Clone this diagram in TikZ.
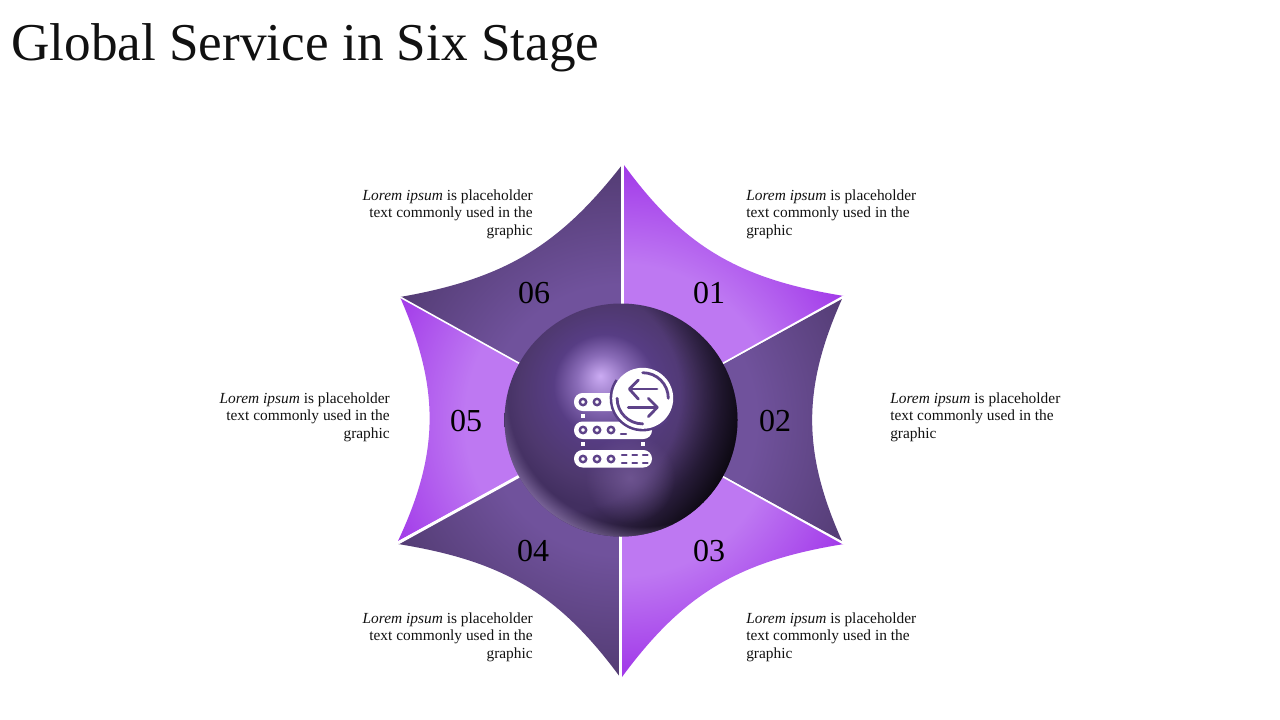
\documentclass[tikz,border=0pt]{standalone}
\usepackage{fontspec}
\setmainfont{Liberation Serif}
\usetikzlibrary{fadings}
\definecolor{petallight}{HTML}{BE78F2}
\definecolor{petaldeep}{HTML}{A036E8}
\definecolor{petalmid}{HTML}{70529C}
\definecolor{petaldark}{HTML}{523B72}
\definecolor{iconpurple}{HTML}{5E4389}
\definecolor{inktext}{HTML}{111111}
\definecolor{ballglow}{HTML}{CBABF3}
\definecolor{ballhalf}{HTML}{8A6CB8}
\definecolor{ballmid}{HTML}{573D84}
\definecolor{balltop}{HTML}{4E386E}
\definecolor{ballrim}{HTML}{422F60}
\definecolor{ballblack}{HTML}{0A070E}
\definecolor{ballbounce}{HTML}{917BB0}
\definecolor{ballpatch}{HTML}{7A5F9E}
\pgfdeclareradialshading{lightpetal}{\pgfpointorigin}{color(0bp)=(petallight); color(15bp)=(petallight); color(25bp)=(petaldeep); color(50bp)=(petaldeep)}
\pgfdeclareradialshading{darkpetal}{\pgfpointorigin}{color(0bp)=(petalmid); color(13bp)=(petalmid); color(25bp)=(petaldark); color(50bp)=(petaldark)}
\pgfdeclareradialshading{ballbase}{\pgfpoint{-4.5bp}{9.5bp}}{color(0bp)=(ballglow); color(5.5bp)=(ballhalf); color(11bp)=(ballmid); color(19bp)=(balltop); color(24bp)=(ballrim); color(50bp)=(ballrim)}
\pgfdeclareradialshading{darkmask}{\pgfpointorigin}{color(0bp)=(black); color(16bp)=(black); color(25bp)=(white); color(50bp)=(white)}
\pgfdeclareradialshading{glowmask}{\pgfpointorigin}{color(0bp)=(black); color(22bp)=(black); color(25bp)=(white); color(50bp)=(white)}
\pgfdeclareradialshading{patchmask}{\pgfpointorigin}{color(0bp)=(white); color(25bp)=(black); color(50bp)=(black)}
\pgfdeclarefading{darkfade}{\pgfuseshading{darkmask}}
\pgfdeclarefading{glowfade}{\pgfuseshading{glowmask}}
\pgfdeclarefading{patchfade}{\pgfuseshading{patchmask}}
\tikzset{
  blurb/.style={font=\fontsize{11.55pt}{13.1pt}\selectfont,text=inktext,inner sep=0pt},
  numeral/.style={font=\fontsize{24pt}{24pt}\selectfont,text=black,inner sep=0pt},
  holes/.style={draw=iconpurple,line width=1.8pt,fill=white},
  iconline/.style={draw=iconpurple,line width=2.1pt,line cap=round,line join=round}
}
\begin{document}
\begin{tikzpicture}[x=.75pt,y=-.75pt]
  \useasboundingbox (0,0) rectangle (1280,720);
  \node[anchor=base west,inner sep=0pt,font=\fontsize{39.9pt}{39.9pt}\selectfont,text=inktext] at (11,60.5) (title) {Global Service in Six Stage};
  % petals
  \foreach \a/\shd/\ax/\ay/\bx/\by in {-60/lightpetal/3/-255/223/-124,0/darkpetal/221/-121/221/121,60/lightpetal/223/124/1/257,120/darkpetal/-1/257/-223/124,180/lightpetal/-223/121/-221/-123,240/darkpetal/-221/-123/1/-255}{
    \begin{scope}[shift={(621,420)}]
      \clip (0,0) -- (\ax,\ay) .. controls (\a-10:184) and (\a+10:184) .. (\bx,\by) -- cycle;
      \shade[shading=\shd] (0,0) circle (260);
    \end{scope}
  }
  % gaps
  \draw[white,line width=1.6pt] (622.5,160)--(622.5,310);
  \draw[white,line width=1.6pt] (620.5,530)--(620.5,680);
  \draw[white,line width=1.2pt] (621,420)--(844,296);
  \draw[white,line width=1.2pt] (621,420)--(844,544);
  \draw[white,line width=1.2pt] (621,420)--(400,297);
  \draw[white,line width=2.2pt] (621,420)--(398,543);
  % ball
  \begin{scope}
    \clip (621,420) circle (116.5);
    \shade[shading=ballbase] (621,420) circle (116.5);
    \fill[ballblack,path fading=darkfade] (565,395) circle (180);
    \fill[ballpatch,path fading=patchfade,fill opacity=.7] (630,478) circle (45);
    \fill[ballbounce,path fading=glowfade,fill opacity=.75] (641,393) circle (151);
  \end{scope}
  % icon
  \fill[white,rounded corners=6.5pt] (574,393) rectangle (625,411);
  \fill[white,rounded corners=6.5pt] (574,421.5) rectangle (652,439);
  \fill[white,rounded corners=6.5pt] (574,450) rectangle (652,467.5);
  \foreach \x in {583,597}{\draw[holes] (\x,402) circle (3.2);}
  \foreach \x in {583,597,611}{
    \draw[holes] (\x,430) circle (3.2);
    \draw[holes] (\x,459) circle (3.2);
  }
  \draw[iconline,line width=1.8pt] (621,434)--(626,434);
  \foreach \x in {622,632.5,643}{
    \draw[iconline,line width=1.8pt] (\x,455)--(\x+4.5,455);
    \draw[iconline,line width=1.8pt] (\x,462.7)--(\x+4.5,462.7);
  }
  \foreach \x/\y in {583/416,583/444,643/444}{\fill[white] (\x-1.8,\y-1.8) rectangle (\x+1.8,\y+1.8);}
  \draw[ballmid,line width=2.4pt] (642.7,398.3) ++(40:31.5) arc[start angle=40,end angle=215,radius=31.5];
  \fill[white] (642.7,398.3) circle (30.5);
  \draw[iconline] (642.7,372.7) arc[start angle=-90,end angle=0,radius=25.6];
  \draw[iconline] (617.1,398.3) arc[start angle=180,end angle=90,radius=25.6];
  \draw[iconline] (657,389)--(630,389);
  \draw[iconline] (638.3,380)--(629.3,389)--(638.3,399);
  \draw[iconline] (628.3,407.3)--(657,407.3);
  \draw[iconline] (648.3,398.3)--(657.3,407.3)--(648.3,416.7);
  % numbers
  \node[numeral] at (709,293) (n01) {01};
  \node[numeral] at (775,421) (n02) {02};
  \node[numeral] at (709,551) (n03) {03};
  \node[numeral] at (533,551) (n04) {04};
  \node[numeral] at (466,421) (n05) {05};
  \node[numeral] at (534,293) (n06) {06};
  % texts
  \node[blurb,anchor=west,align=left] at (746,214) (t01) {\textit{Lorem ipsum} is placeholder\\text commonly used in the\\graphic};
  \node[blurb,anchor=west,align=left] at (890,417) (t02) {\textit{Lorem ipsum} is placeholder\\text commonly used in the\\graphic};
  \node[blurb,anchor=west,align=left] at (746,637) (t03) {\textit{Lorem ipsum} is placeholder\\text commonly used in the\\graphic};
  \node[blurb,anchor=east,align=right] at (533,637) (t04) {\textit{Lorem ipsum} is placeholder\\text commonly used in the\\graphic};
  \node[blurb,anchor=east,align=right] at (390,417) (t05) {\textit{Lorem ipsum} is placeholder\\text commonly used in the\\graphic};
  \node[blurb,anchor=east,align=right] at (533,214) (t06) {\textit{Lorem ipsum} is placeholder\\text commonly used in the\\graphic};
\end{tikzpicture}
\end{document}
